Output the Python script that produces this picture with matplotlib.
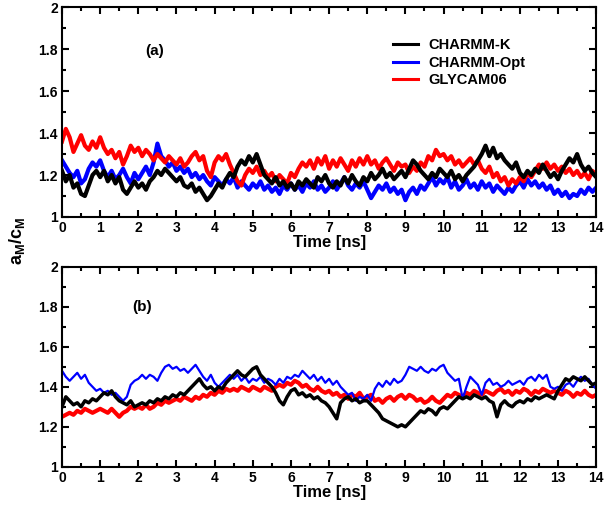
import numpy as np
import matplotlib
matplotlib.use('Agg')
import matplotlib.pyplot as plt
from matplotlib.ticker import MultipleLocator, FuncFormatter
from matplotlib.lines import Line2D

plt.rcParams['font.family'] = ['Liberation Sans', 'DejaVu Sans']
plt.rcParams['font.weight'] = 'bold'
plt.rcParams['mathtext.fontset'] = 'custom'
plt.rcParams['mathtext.rm'] = 'Liberation Sans:bold'
plt.rcParams['mathtext.it'] = 'Liberation Sans:bold'
plt.rcParams['mathtext.bf'] = 'Liberation Sans:bold'

# time axis, 0.1 ns steps
time_ns = np.round(np.arange(0, 14.01, 0.1), 1)

# panel (a) values
charmm_k_a = [
    1.22, 1.17, 1.20, 1.14, 1.16, 1.11, 1.10, 1.15, 1.20, 1.22,
    1.19, 1.22, 1.17, 1.20, 1.16, 1.19, 1.13, 1.11, 1.14, 1.17,
    1.14, 1.16, 1.13, 1.17, 1.19, 1.22, 1.20, 1.23, 1.21, 1.19,
    1.17, 1.19, 1.15, 1.14, 1.16, 1.12, 1.14, 1.11, 1.08, 1.10,
    1.13, 1.16, 1.14, 1.18, 1.21, 1.19, 1.24, 1.27, 1.25, 1.29,
    1.26, 1.30, 1.25, 1.20, 1.18, 1.16, 1.19, 1.15, 1.17, 1.14,
    1.16, 1.13, 1.17, 1.15, 1.18, 1.16, 1.14, 1.19, 1.17, 1.20,
    1.16, 1.14, 1.17, 1.15, 1.19, 1.16, 1.20, 1.17, 1.15, 1.19,
    1.17, 1.21, 1.18, 1.20, 1.23, 1.19, 1.21, 1.18, 1.20, 1.22,
    1.19, 1.23, 1.27, 1.25, 1.22, 1.20, 1.18, 1.21, 1.19, 1.23,
    1.21, 1.19, 1.22, 1.18, 1.20, 1.17, 1.20, 1.22, 1.24, 1.27,
    1.30, 1.34, 1.29, 1.33, 1.28, 1.30, 1.27, 1.25, 1.23, 1.26,
    1.21, 1.19, 1.22, 1.20, 1.23, 1.21, 1.25, 1.22, 1.19, 1.21,
    1.18, 1.22, 1.25, 1.28, 1.26, 1.30, 1.25, 1.22, 1.24, 1.21,
    1.19]
charmm_opt_a = [
    1.27, 1.24, 1.21, 1.19, 1.22, 1.16, 1.18, 1.23, 1.26, 1.24,
    1.27, 1.22, 1.19, 1.22, 1.18, 1.20, 1.23, 1.19, 1.16, 1.21,
    1.18, 1.21, 1.24, 1.20, 1.26, 1.35, 1.29, 1.27, 1.24, 1.26,
    1.22, 1.24, 1.21, 1.23, 1.19, 1.21, 1.18, 1.20, 1.17, 1.15,
    1.19, 1.17, 1.15, 1.18, 1.16, 1.19, 1.14, 1.17, 1.15, 1.13,
    1.16, 1.14, 1.17, 1.13, 1.15, 1.12, 1.14, 1.11, 1.15, 1.13,
    1.16, 1.13, 1.15, 1.12, 1.16, 1.14, 1.17, 1.13, 1.15, 1.12,
    1.14, 1.17, 1.13, 1.16, 1.19, 1.15, 1.13, 1.16, 1.14, 1.17,
    1.13, 1.09, 1.12, 1.15, 1.13, 1.16, 1.12, 1.14, 1.11, 1.13,
    1.08, 1.12, 1.14, 1.11, 1.15, 1.13, 1.16, 1.19, 1.15, 1.18,
    1.16, 1.19, 1.14, 1.17, 1.13, 1.15, 1.18, 1.14, 1.16, 1.13,
    1.17, 1.14, 1.16, 1.12, 1.15, 1.13, 1.11, 1.14, 1.12, 1.15,
    1.17, 1.14, 1.18, 1.15, 1.17, 1.14, 1.16, 1.13, 1.15, 1.11,
    1.13, 1.10, 1.12, 1.09, 1.11, 1.10, 1.13, 1.11, 1.14, 1.12,
    1.14]
glycam06_a = [
    1.36, 1.42, 1.38, 1.31, 1.35, 1.39, 1.34, 1.32, 1.36, 1.33,
    1.38, 1.33, 1.30, 1.32, 1.28, 1.31, 1.25, 1.29, 1.34, 1.31,
    1.33, 1.29, 1.32, 1.30, 1.27, 1.30, 1.28, 1.26, 1.29, 1.27,
    1.25, 1.28, 1.24, 1.26, 1.29, 1.31, 1.27, 1.29, 1.22, 1.19,
    1.26, 1.29, 1.27, 1.30, 1.25, 1.21, 1.17, 1.15, 1.20, 1.23,
    1.21, 1.24, 1.20, 1.22, 1.19, 1.21, 1.17, 1.20, 1.18, 1.16,
    1.21, 1.19, 1.23, 1.26, 1.24, 1.27, 1.23, 1.28, 1.25, 1.29,
    1.23, 1.27, 1.24, 1.28, 1.25, 1.22, 1.27, 1.24, 1.28, 1.25,
    1.29, 1.25, 1.27, 1.23, 1.26, 1.28, 1.25, 1.22, 1.26, 1.24,
    1.25, 1.21, 1.24, 1.22, 1.26, 1.24, 1.29, 1.27, 1.32, 1.29,
    1.30, 1.27, 1.29, 1.25, 1.27, 1.24, 1.26, 1.28, 1.25, 1.27,
    1.23, 1.21, 1.24, 1.19, 1.21, 1.17, 1.19, 1.15, 1.18, 1.16,
    1.19, 1.17, 1.21, 1.19, 1.22, 1.25, 1.23, 1.26, 1.23, 1.25,
    1.22, 1.24, 1.21, 1.23, 1.20, 1.22, 1.19, 1.21, 1.18, 1.22,
    1.20]

# panel (b)
charmm_k_b = [
    1.30, 1.35, 1.33, 1.31, 1.32, 1.30, 1.33, 1.32, 1.34, 1.33,
    1.35, 1.37, 1.36, 1.38, 1.35, 1.33, 1.32, 1.31, 1.33, 1.30,
    1.31, 1.32, 1.31, 1.33, 1.32, 1.34, 1.33, 1.35, 1.34, 1.36,
    1.35, 1.37, 1.36, 1.38, 1.40, 1.42, 1.44, 1.41, 1.39, 1.40,
    1.38, 1.40, 1.39, 1.42, 1.44, 1.46, 1.48, 1.46, 1.45, 1.47,
    1.49, 1.50, 1.46, 1.44, 1.42, 1.40, 1.37, 1.33, 1.31, 1.35,
    1.38, 1.39, 1.36, 1.37, 1.35, 1.36, 1.34, 1.35, 1.33, 1.32,
    1.30, 1.27, 1.24, 1.32, 1.34, 1.35, 1.33, 1.34, 1.32, 1.33,
    1.33, 1.31, 1.29, 1.27, 1.24, 1.23, 1.22, 1.21, 1.20, 1.21,
    1.20, 1.22, 1.24, 1.26, 1.28, 1.27, 1.29, 1.28, 1.26, 1.29,
    1.30, 1.29, 1.31, 1.33, 1.35, 1.34, 1.35, 1.34, 1.36, 1.35,
    1.34, 1.35, 1.33, 1.32, 1.25, 1.31, 1.33, 1.31, 1.30, 1.32,
    1.33, 1.32, 1.34, 1.33, 1.35, 1.34, 1.35, 1.36, 1.35, 1.34,
    1.38, 1.41, 1.44, 1.43, 1.45, 1.44, 1.43, 1.45, 1.43, 1.41,
    1.42]
charmm_opt_b = [
    1.48, 1.45, 1.43, 1.45, 1.47, 1.44, 1.46, 1.42, 1.40, 1.38,
    1.39, 1.37, 1.38, 1.36, 1.37, 1.35, 1.33, 1.35, 1.41, 1.43,
    1.44, 1.46, 1.44, 1.46, 1.45, 1.43, 1.47, 1.50, 1.51, 1.49,
    1.50, 1.48, 1.49, 1.47, 1.49, 1.51, 1.48, 1.45, 1.43, 1.46,
    1.42, 1.40, 1.42, 1.44, 1.46, 1.44, 1.46, 1.43, 1.45, 1.42,
    1.44, 1.43, 1.45, 1.42, 1.44, 1.43, 1.41, 1.44, 1.42, 1.45,
    1.44, 1.46, 1.45, 1.48, 1.46, 1.44, 1.46, 1.43, 1.45, 1.42,
    1.44, 1.41, 1.43, 1.40, 1.38, 1.36, 1.37, 1.33, 1.35, 1.34,
    1.36, 1.33, 1.39, 1.42, 1.40, 1.43, 1.41, 1.44, 1.42, 1.43,
    1.46, 1.50, 1.49, 1.48, 1.50, 1.48, 1.47, 1.49, 1.48, 1.50,
    1.51, 1.47, 1.45, 1.43, 1.44, 1.34, 1.40, 1.45, 1.43, 1.41,
    1.36, 1.42, 1.44, 1.41, 1.42, 1.40, 1.41, 1.43, 1.41, 1.42,
    1.43, 1.41, 1.44, 1.45, 1.43, 1.46, 1.44, 1.46, 1.40, 1.39,
    1.40, 1.38, 1.41, 1.42, 1.40, 1.43, 1.45, 1.43, 1.44, 1.41,
    1.39]
glycam06_b = [
    1.25, 1.26, 1.27, 1.26, 1.28, 1.27, 1.29, 1.28, 1.27, 1.28,
    1.29, 1.28, 1.27, 1.29, 1.27, 1.25, 1.27, 1.28, 1.30, 1.29,
    1.30, 1.29, 1.31, 1.29, 1.30, 1.32, 1.31, 1.33, 1.32, 1.33,
    1.34, 1.33, 1.35, 1.34, 1.33, 1.35, 1.34, 1.36, 1.35, 1.37,
    1.36, 1.38, 1.37, 1.39, 1.38, 1.39, 1.38, 1.40, 1.39, 1.38,
    1.40, 1.39, 1.38, 1.40, 1.39, 1.38, 1.40, 1.41, 1.40, 1.42,
    1.41, 1.43, 1.42, 1.40, 1.41, 1.39, 1.38, 1.40, 1.38, 1.37,
    1.38, 1.36, 1.37, 1.35, 1.36, 1.34, 1.36, 1.35, 1.37, 1.34,
    1.35, 1.36, 1.33, 1.34, 1.32, 1.34, 1.35, 1.33, 1.35, 1.36,
    1.34, 1.36, 1.35, 1.33, 1.34, 1.32, 1.33, 1.35, 1.33, 1.32,
    1.34, 1.36, 1.35, 1.37, 1.36, 1.35, 1.37, 1.36, 1.38, 1.37,
    1.36, 1.38, 1.37, 1.36, 1.38, 1.39, 1.37, 1.38, 1.36, 1.38,
    1.37, 1.39, 1.38, 1.36, 1.38, 1.37, 1.39, 1.38, 1.37, 1.38,
    1.37, 1.36, 1.38, 1.37, 1.35, 1.37, 1.36, 1.38, 1.36, 1.35,
    1.36]

labels = ['CHARMM-K', 'CHARMM-Opt', 'GLYCAM06']
colors = ['black', 'blue', 'red']

fig = plt.figure(figsize=(6.14, 5.13), dpi=100)
ax_a = fig.add_axes([0.101, 0.577, 0.870, 0.409])
ax_b = fig.add_axes([0.101, 0.090, 0.870, 0.390])

# draw order follows the overlaps seen in the picture
ax_a.plot(time_ns, charmm_opt_a, color='blue', lw=3)
ax_a.plot(time_ns, glycam06_a, color='red', lw=3)
ax_a.plot(time_ns, charmm_k_a, color='black', lw=3)

ax_b.plot(time_ns, glycam06_b, color='red', lw=3)
ax_b.plot(time_ns, charmm_opt_b, color='blue', lw=1.6)
ax_b.plot(time_ns, charmm_k_b, color='black', lw=2.5)

for ax in (ax_a, ax_b):
    ax.set_xlim(0, 14)
    ax.set_ylim(1, 2)
    ax.xaxis.set_major_locator(MultipleLocator(1))
    ax.xaxis.set_minor_locator(MultipleLocator(0.5))
    ax.yaxis.set_major_locator(MultipleLocator(0.2))
    ax.yaxis.set_minor_locator(MultipleLocator(0.1))
    ax.yaxis.set_major_formatter(FuncFormatter(lambda v, p: '%g' % round(v, 1)))
    ax.tick_params(which='both', direction='in', top=True, right=True, width=1.5)
    ax.tick_params(which='major', length=5, labelsize=10, pad=3)
    ax.tick_params(which='minor', length=3)
    for s in ax.spines.values():
        s.set_linewidth(1.5)
    for lab in ax.get_xticklabels() + ax.get_yticklabels():
        lab.set_fontweight('bold')
    ax.set_xlabel('Time [ns]', fontsize=12, fontweight='bold', labelpad=0)

ax_a.text(0.174, 0.79, '(a)', transform=ax_a.transAxes, fontsize=11,
          fontweight='bold', ha='center', va='center')
ax_b.text(0.150, 0.80, '(b)', transform=ax_b.transAxes, fontsize=11,
          fontweight='bold', ha='center', va='center')

handles = [Line2D([], [], color=c, lw=2.2) for c in colors]
ax_a.legend(handles, labels, loc='upper left', bbox_to_anchor=(0.595, 0.915),
            frameon=False, handlelength=1.7, handletextpad=0.7,
            labelspacing=0.25, prop={'weight': 'bold', 'size': 10.5})

fig.text(0.027, 0.53, r'$a_M/c_M$', rotation=90, fontsize=13,
         ha='center', va='center')

fig.savefig('out.png', dpi=100)
